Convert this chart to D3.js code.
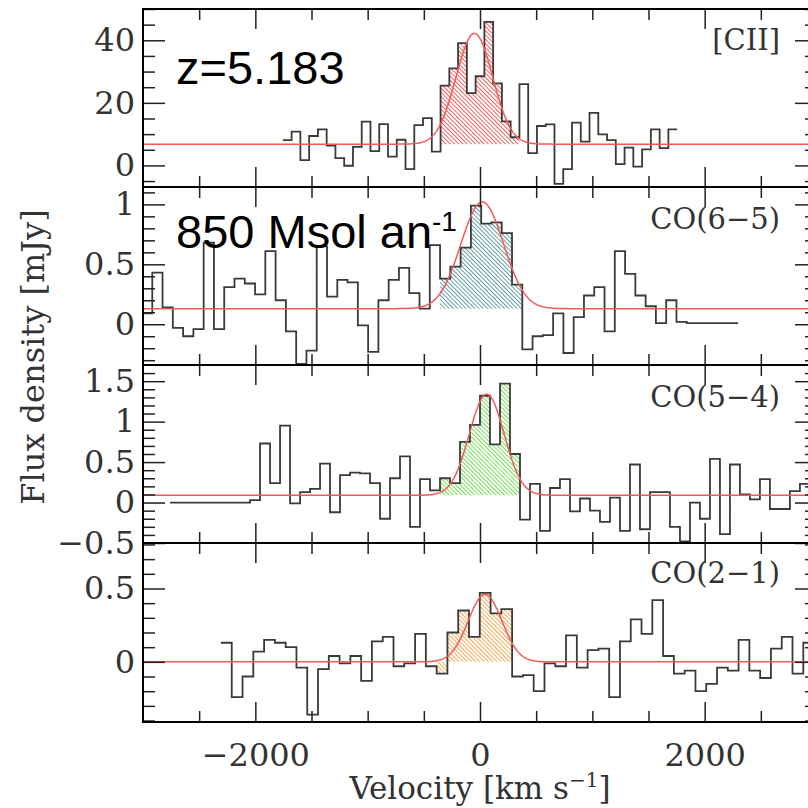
<!DOCTYPE html>
<html>
<head>
<meta charset="utf-8">
<script src="https://cdn.jsdelivr.net/npm/d3@7"></script>
<style>
  body { margin: 0; background: #fff; }
  svg { display: block; }
</style>
</head>
<body>
<svg></svg>
<script>
var width = 808;
var height = 808;

// velocity axis
var velDomain = [-3000, 3000];
var velMajorTicks = [-2000, 0, 2000];
var velMinorTicks = [-2500, -1500, -1000, -500, 500, 1000, 1500, 2500];

// panel names
var lineNames = ['[CII]', 'CO(6\u22125)', 'CO(5\u22124)', 'CO(2\u22121)'];

// [CII] spectrum (mJy), bins of 78 km/s starting at -1755 km/s
var ciiStart = -1755, ciiWidth = 78;
var ciiFlux = [8.1, 10.8, 1.7, 9.4, 11.5, 6.3, 2.3, -0.1, 5.9, 14.0,
  4.6, 13.2, 2.8, 8.2, -1.2, 12.9, 15.1, 4.4, 25.5, 31.0,
  39.1, 23.1, 28.5, 45.9, 26.2, 14.1, 9.0, 26.0, 3.9, 12.6,
  13.1, -5.9, -1.2, 13.7, 7.6, 16.8, 9.9, 8.1, 0.4, 5.7,
  -0.4, 5.1, 11.5, 5.5, 11.5];

// CO(6-5) spectrum, bins of 91.5 km/s starting at -3009 km/s
var co65Start = -3009, co65Width = 91.5;
var co65Flux = [0.09, 0.43, 0.14, -0.03, -0.10, -0.04, 0.68, -0.04, 0.31, 0.38,
  0.34, 0.25, 0.61, 0.20, -0.06, -0.33, -0.22, 0.65, 0.23, 0.37,
  0.35, -0.01, -0.23, 0.20, 0.37, 0.47, 0.26, 0.13, 0.66, 0.38,
  0.48, 0.64, 0.99, 0.84, 0.85, 0.76, 0.33, -0.21, -0.10, -0.09,
  0.09, -0.24, 0.06, 0.24, 0.31, -0.06, 0.61, 0.42, 0.24, 0.15,
  0.01, 0.20, 0.02, 0.01, 0.01, 0.01, 0.01, 0.01];

// CO(5-4) spectrum, bins of 89 km/s starting at -2759 km/s
var co54Start = -2759, co54Width = 89;
var co54Flux = [0.0, 0.0, 0.0, 0.0, 0.0, 0.0, 0.0, 0.0, 0.03, 0.73,
  0.24, 0.95, -0.01, 0.13, 0.17, 0.48, -0.12, 0.34, 0.37, 0.36,
  0.24, -0.20, 0.30, 0.57, -0.30, 0.29, 0.15, 0.30, 0.24, 0.75,
  0.96, 1.32, 0.72, 1.47, 0.60, -0.21, 0.23, -0.35, 0.18, 0.29,
  -0.11, 0.05, -0.10, -0.24, 0.06, -0.35, 0.47, -0.33, 0.13, 0.13,
  -0.30, -0.48, 0.00, -0.20, 0.54, -0.39, 0.47, 0.10, 0.04, 0.29,
  -0.08, -0.08, 0.14, 0.23];

// CO(2-1) spectrum, bins of 96 km/s starting at -2306 km/s
var co21Start = -2306, co21Width = 96;
var co21Flux = [0.13, -0.24, -0.10, 0.07, 0.15, 0.13, 0.10, -0.04, -0.36, -0.05,
  0.04, -0.01, 0.04, -0.13, 0.14, 0.17, -0.03, -0.01, 0.19, -0.03,
  -0.08, 0.20, 0.35, 0.17, 0.47, 0.33, 0.36, -0.10, -0.09, -0.20,
  -0.01, -0.03, 0.18, -0.04, 0.08, 0.09, -0.24, 0.14, 0.29, 0.19,
  0.42, 0.04, -0.08, -0.06, -0.20, -0.15, -0.04, -0.06, 0.15, -0.06,
  -0.11, 0.09, 0.17, -0.08, 0.13];

// first and last bin (index) of the shaded line region
var lineBins = [[18, 26], [29, 36], [27, 34], [20, 26]];

// gaussian fits: continuum, peak above continuum, centre, sigma (km/s)
var fitContinuum = [6.8, 0.13, 0.09, 0.0];
var fitPeak = [35.4, 0.89, 1.25, 0.46];
var fitCenter = [-50, 20, 60, 45];
var fitSigma = [163, 190, 155, 150];

// y axes
var yDomains = [[-6.9, 50], [-0.34, 1.145], [-0.5, 1.7], [-0.41, 0.81]];
var yMajorTicks = [[0, 20, 40], [0, 0.5, 1], [-0.5, 0, 0.5, 1, 1.5], [0, 0.5]];
var yMinorStep = [5, 0.1, 0.1, 0.1];

var shadeColors = ['#f04444', '#4a8c94', '#5cd638', '#f29836'];

var spectra = [
  {start: ciiStart, width: ciiWidth, flux: ciiFlux},
  {start: co65Start, width: co65Width, flux: co65Flux},
  {start: co54Start, width: co54Width, flux: co54Flux},
  {start: co21Start, width: co21Width, flux: co21Flux}
];

var plotLeft = 143;
var plotRight = 817;
var panelTops = [9, 187, 365, 543];
var panelBottoms = [187, 365, 543, 722];

var svg = d3.select('svg')
  .attr('width', width)
  .attr('height', height);

svg.append('rect')
  .attr('width', width)
  .attr('height', height)
  .attr('fill', '#fff');

var defs = svg.append('defs');

var scaleX = d3.scaleLinear()
  .domain(velDomain)
  .range([plotLeft, plotRight]);

var serif = '"DejaVu Serif", "Liberation Serif", serif';
var sans = '"Liberation Sans", Arial, sans-serif';

spectra.forEach(function(spec, p) {
  var top = panelTops[p];
  var bottom = panelBottoms[p];
  var scaleY = d3.scaleLinear()
    .domain(yDomains[p])
    .range([bottom, top]);

  defs.append('clipPath')
    .attr('id', 'clip' + p)
    .append('rect')
    .attr('x', plotLeft)
    .attr('y', top)
    .attr('width', plotRight - plotLeft)
    .attr('height', bottom - top);

  var pattern = defs.append('pattern')
    .attr('id', 'hatch' + p)
    .attr('patternUnits', 'userSpaceOnUse')
    .attr('width', 3)
    .attr('height', 3)
    .attr('patternTransform', 'rotate(-45)');
  pattern.append('line')
    .attr('x1', 0).attr('y1', 0)
    .attr('x2', 0).attr('y2', 3)
    .attr('stroke', shadeColors[p])
    .attr('stroke-width', 1.7);

  var g = svg.append('g')
    .attr('clip-path', 'url(#clip' + p + ')');

  // step points: left edge of each bin, then the right edge of the last bin
  var steps = spec.flux.map(function(f, i) {
    return {v: spec.start + i * spec.width, f: f};
  });
  steps.push({
    v: spec.start + spec.flux.length * spec.width,
    f: spec.flux[spec.flux.length - 1]
  });

  var lo = lineBins[p][0];
  var hi = lineBins[p][1];
  var shade = steps.slice(lo, hi + 1);
  shade.push({v: spec.start + (hi + 1) * spec.width, f: spec.flux[hi]});

  var shadeArea = d3.area()
    .x(function(d) { return scaleX(d.v); })
    .y0(scaleY(fitContinuum[p]))
    .y1(function(d) { return scaleY(d.f); })
    .curve(d3.curveStepAfter);

  g.append('path')
    .datum(shade)
    .attr('d', shadeArea)
    .attr('fill', 'url(#hatch' + p + ')');

  var histLine = d3.line()
    .x(function(d) { return scaleX(d.v); })
    .y(function(d) { return scaleY(d.f); })
    .curve(d3.curveStepAfter);

  g.append('path')
    .datum(steps)
    .attr('d', histLine)
    .attr('fill', 'none')
    .attr('stroke', '#3a3a3a')
    .attr('stroke-width', 1.8);

  // gaussian fit plus continuum
  var fitPts = d3.range(velDomain[0], velDomain[1] + 1, 5).map(function(v) {
    var z = (v - fitCenter[p]) / fitSigma[p];
    return {v: v, f: fitContinuum[p] + fitPeak[p] * Math.exp(-0.5 * z * z)};
  });
  g.append('path')
    .datum(fitPts)
    .attr('d', d3.line()
      .x(function(d) { return scaleX(d.v); })
      .y(function(d) { return scaleY(d.f); }))
    .attr('fill', 'none')
    .attr('stroke', '#f25a5a')
    .attr('stroke-width', 1.5);

  // axes, ticks pointing inwards
  var majors = yMajorTicks[p];
  var minors = d3.range(yDomains[p][0], yDomains[p][1], yMinorStep[p])
    .map(function(t) { return Math.round(t / yMinorStep[p]) * yMinorStep[p]; })
    .filter(function(t) {
      return t >= yDomains[p][0] && t <= yDomains[p][1] &&
        !majors.some(function(m) { return Math.abs(m - t) < 1e-6; });
    });

  svg.append('g')
    .attr('class', 'axis')
    .attr('transform', 'translate(' + plotLeft + ',0)')
    .call(d3.axisLeft(scaleY)
      .tickValues(majors)
      .tickSize(-22)
      .tickPadding(8)
      .tickFormat(d3.format('~g')));

  svg.append('g')
    .attr('class', 'axis')
    .attr('transform', 'translate(' + plotLeft + ',0)')
    .call(d3.axisLeft(scaleY).tickValues(minors).tickSize(-12).tickFormat(''));

  svg.append('g')
    .attr('class', 'axis')
    .attr('transform', 'translate(' + plotRight + ',0)')
    .call(d3.axisRight(scaleY).tickValues(majors).tickSize(-22).tickFormat(''));

  svg.append('g')
    .attr('class', 'axis')
    .attr('transform', 'translate(' + plotRight + ',0)')
    .call(d3.axisRight(scaleY).tickValues(minors).tickSize(-12).tickFormat(''));

  svg.append('g')
    .attr('class', 'axis')
    .attr('transform', 'translate(0,' + top + ')')
    .call(d3.axisTop(scaleX).tickValues(velMajorTicks).tickSize(-20).tickFormat(''));
  svg.append('g')
    .attr('class', 'axis')
    .attr('transform', 'translate(0,' + top + ')')
    .call(d3.axisTop(scaleX).tickValues(velMinorTicks).tickSize(-11).tickFormat(''));

  svg.append('g')
    .attr('class', 'axis')
    .attr('transform', 'translate(0,' + bottom + ')')
    .call(d3.axisBottom(scaleX)
      .tickValues(velMajorTicks)
      .tickSize(-20)
      .tickPadding(21)
      .tickFormat(p === 3 ? d3.format('d') : ''));
  svg.append('g')
    .attr('class', 'axis')
    .attr('transform', 'translate(0,' + bottom + ')')
    .call(d3.axisBottom(scaleX).tickValues(velMinorTicks).tickSize(-11).tickFormat(''));

  // frame
  svg.append('rect')
    .attr('x', plotLeft)
    .attr('y', top)
    .attr('width', plotRight - plotLeft)
    .attr('height', bottom - top)
    .attr('fill', 'none')
    .attr('stroke', '#000')
    .attr('stroke-width', 2);

  svg.append('text')
    .attr('x', 780)
    .attr('y', [50, 229, 407, 583][p])
    .attr('text-anchor', 'end')
    .attr('font-family', serif)
    .attr('font-size', 29)
    .attr('fill', '#333')
    .text(lineNames[p]);
});

svg.selectAll('.axis .domain').remove();
svg.selectAll('.axis line')
  .attr('stroke', '#222')
  .attr('stroke-width', 1.5);
svg.selectAll('.axis text')
  .attr('font-family', serif)
  .attr('font-size', 32)
  .attr('fill', '#333');

// axis titles
svg.append('text')
  .attr('x', 480)
  .attr('y', 799)
  .attr('text-anchor', 'middle')
  .attr('font-family', serif)
  .attr('font-size', 31)
  .attr('fill', '#333')
  .call(function(t) {
    t.append('tspan').text('Velocity [km s');
    t.append('tspan').attr('dy', -12).attr('font-size', 20).text('\u22121');
    t.append('tspan').attr('dy', 12).text(']');
  });

svg.append('text')
  .attr('transform', 'translate(44,357) rotate(-90)')
  .attr('text-anchor', 'middle')
  .attr('font-family', serif)
  .attr('font-size', 32)
  .attr('fill', '#333')
  .text('Flux density [mJy]');

// annotations
svg.append('text')
  .attr('x', 176)
  .attr('y', 84)
  .attr('font-family', sans)
  .attr('font-size', 47)
  .attr('fill', '#000')
  .text('z=5.183');

svg.append('text')
  .attr('x', 176)
  .attr('y', 248)
  .attr('font-family', sans)
  .attr('font-size', 47)
  .attr('fill', '#000')
  .call(function(t) {
    t.append('tspan').text('850 Msol an');
    t.append('tspan').attr('dy', -17).attr('font-size', 28).text('-1');
  });
</script>
</body>
</html>
